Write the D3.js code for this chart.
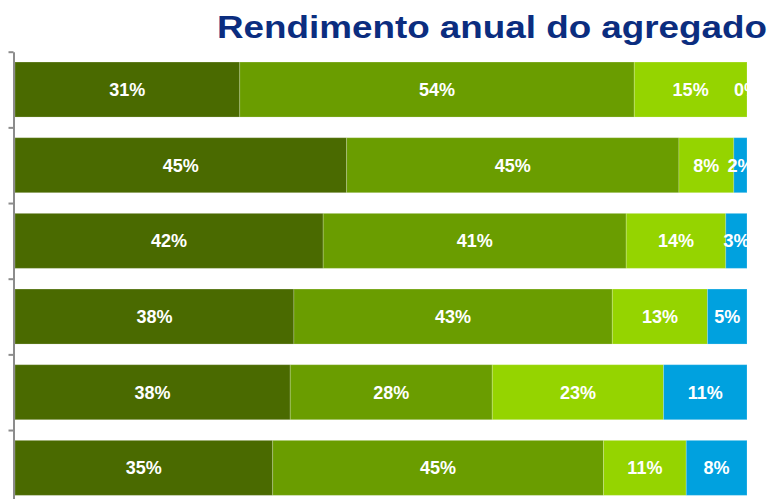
<!DOCTYPE html>
<html>
<head>
<meta charset="utf-8">
<script src="https://cdn.jsdelivr.net/npm/d3@7"></script>
<style>
  body { margin: 0; background: #fff; }
  svg { display: block; font-family: "Liberation Sans", Arial, sans-serif; }
</style>
</head>
<body>
<svg id="drawing_region"></svg>
<script>
// data (shares in %; labels are rounded)
const categories = ['1', '2', '3', '4', '5', '6'];
const series = ['s1', 's2', 's3', 's4'];
const s1 = [30.7, 45.3, 42.1, 38.1, 37.6, 35.2];
const s2 = [53.9, 45.4, 41.4, 43.5, 27.6, 45.2];
const s3 = [15.4, 7.5, 13.6, 13.0, 23.4, 11.3];
const s4 = [0.0, 1.8, 2.9, 5.4, 11.4, 8.3];
const colors = ['#4a6a00', '#6a9d00', '#95d400', '#00a1df'];
const title = 'Rendimento anual do agregado';

const config = {
    width: 775,
    height: 499,
    left: 15,
    right: 747,
    top: 51.7,
    bottom: 505.7
};

const data = categories.map((c, i) => ({ cat: c, s1: s1[i], s2: s2[i], s3: s3[i], s4: s4[i] }));

const svg = d3.select('#drawing_region')
    .attr('width', config.width)
    .attr('height', config.height);

const xscale = d3.scaleLinear()
    .domain([0, 100])
    .range([config.left, config.right]);

const yscale = d3.scaleBand()
    .domain(categories)
    .range([config.top, config.bottom])
    .paddingInner(0.273)
    .paddingOuter(0.1365);

// tick positions are on band boundaries
const yticks = d3.scaleLinear()
    .domain([0, categories.length])
    .range([config.top, config.bottom]);

const stack = d3.stack().keys(series)(data);

svg.append('clipPath')
    .attr('id', 'plotclip')
  .append('rect')
    .attr('x', 0)
    .attr('y', 0)
    .attr('width', config.right)
    .attr('height', config.height);

const layers = svg.selectAll('g.layer')
    .data(stack)
    .join('g')
    .attr('class', 'layer')
    .attr('fill', (d, i) => colors[i]);

layers.selectAll('rect')
    .data(d => d.filter(e => e[1] - e[0] > 0))
    .join('rect')
    .attr('x', d => xscale(d[0]))
    .attr('y', d => yscale(d.data.cat))
    .attr('width', d => xscale(d[1]) - xscale(d[0]))
    .attr('height', yscale.bandwidth())
    .attr('stroke', 'rgba(255,255,255,0.2)')
    .attr('stroke-width', 1);

const labels = svg.append('g')
    .attr('clip-path', 'url(#plotclip)');

stack.forEach(layer => {
    labels.selectAll(null)
        .data(layer)
        .join('text')
        .attr('x', d => (xscale(d[0]) + xscale(d[1])) / 2)
        .attr('y', d => yscale(d.data.cat) + yscale.bandwidth() / 2)
        .attr('dy', '0.35em')
        .attr('text-anchor', 'middle')
        .attr('fill', '#fff')
        .attr('font-size', 18)
        .attr('font-weight', 'bold')
        .text(d => Math.round(d[1] - d[0]) + '%');
});

const yaxis = d3.axisLeft(yticks)
    .tickValues(d3.range(categories.length + 1))
    .tickFormat('')
    .tickSize(5)
    .tickSizeOuter(0);

const yaxis_group = svg.append('g')
    .attr('transform', `translate(13.5, 0)`)
    .call(yaxis);

yaxis_group.selectAll('path, line')
    .attr('stroke', '#8c8c8c')
    .attr('stroke-width', 2);

svg.append('text')
    .attr('x', 217)
    .attr('y', 38)
    .attr('fill', '#0b2d7f')
    .attr('font-size', 31)
    .attr('font-weight', 'bold')
    .attr('textLength', 550)
    .attr('lengthAdjust', 'spacingAndGlyphs')
    .text(title);
</script>
</body>
</html>
